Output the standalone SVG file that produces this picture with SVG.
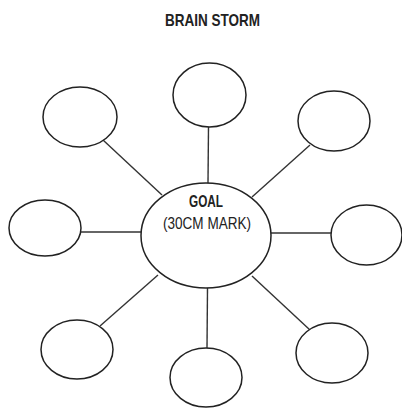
<svg xmlns="http://www.w3.org/2000/svg" width="402" height="408" viewBox="0 0 402 408">
<style>
.n{fill:#fff;stroke:#222;stroke-width:1.5}
.c line{stroke:#333;stroke-width:1.4}
text{font-family:"Liberation Sans",Arial,sans-serif;fill:#222}
.b{font-weight:bold}
</style>
<rect width="402" height="408" fill="#fff"/>
<text class="b" x="212.5" y="26" font-size="17" text-anchor="middle" textLength="95" lengthAdjust="spacingAndGlyphs">BRAIN STORM</text>
<g class="c" id="connectors">
<line x1="208.5" y1="127" x2="208" y2="183"/>
<line x1="103" y1="140" x2="162" y2="195"/>
<line x1="310" y1="145" x2="252" y2="197"/>
<line x1="81" y1="232" x2="141" y2="232"/>
<line x1="271" y1="233" x2="331" y2="233"/>
<line x1="158" y1="275" x2="100" y2="326"/>
<line x1="207.5" y1="288" x2="207" y2="348"/>
<line x1="252" y1="276" x2="310" y2="330"/>
</g>
<g id="goal">
<ellipse class="n" cx="206" cy="235.5" rx="65" ry="52.5"/>
<text class="b" x="206" y="207" font-size="17" text-anchor="middle" textLength="34" lengthAdjust="spacingAndGlyphs">GOAL</text>
<text x="207" y="229" font-size="17" text-anchor="middle" textLength="88" lengthAdjust="spacingAndGlyphs">(30CM MARK)</text>
</g>
<g id="top"><ellipse class="n" cx="209.5" cy="95" rx="36.5" ry="32"/></g>
<g id="top-left"><ellipse class="n" cx="80" cy="117" rx="37" ry="30"/></g>
<g id="top-right"><ellipse class="n" cx="334" cy="121" rx="36" ry="30"/></g>
<g id="left"><ellipse class="n" cx="45" cy="228" rx="36" ry="28"/></g>
<g id="right"><ellipse class="n" cx="366.5" cy="235" rx="35.5" ry="30"/></g>
<g id="bottom-left"><ellipse class="n" cx="77" cy="349.5" rx="36" ry="29.5"/></g>
<g id="bottom"><ellipse class="n" cx="206" cy="377.5" rx="36" ry="29.5"/></g>
<g id="bottom-right"><ellipse class="n" cx="332" cy="353" rx="36" ry="30"/></g>
</svg>
